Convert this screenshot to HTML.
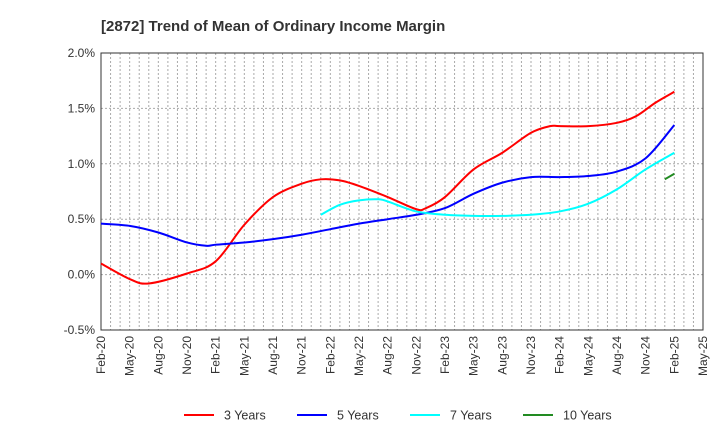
<!DOCTYPE html>
<html><head><meta charset="utf-8"><style>
body{margin:0;background:#fff;font-family:"Liberation Sans",sans-serif;}
svg text{font-family:"Liberation Sans",sans-serif;}
</style></head><body>
<svg id="chart" width="720" height="440">
<text x="101" y="31" font-size="15" font-weight="bold" fill="#333">[2872]  Trend of Mean of Ordinary Income Margin</text>
<g id="grid"></g><g id="axes"></g><g id="series"></g><g id="legend"></g>
</svg>
<script>
const xLabels=["Feb-20","May-20","Aug-20","Nov-20","Feb-21","May-21","Aug-21","Nov-21","Feb-22","May-22","Aug-22","Nov-22","Feb-23","May-23","Aug-23","Nov-23","Feb-24","May-24","Aug-24","Nov-24","Feb-25","May-25"];
const yTicks=[-0.5,0,0.5,1.0,1.5,2.0];
const yTickLabels=["-0.5%","0.0%","0.5%","1.0%","1.5%","2.0%"];
const m3=[0,3,5,9,12,15,18,21,23,25,27,30,33,34,36,39,42,45,47,48,51,54,56,58,60];
const v3=[0.10,-0.04,-0.08,0.01,0.12,0.45,0.70,0.82,0.86,0.85,0.80,0.70,0.59,0.60,0.70,0.95,1.10,1.28,1.34,1.34,1.34,1.37,1.43,1.55,1.65];
const m5=[0,3,6,9,11,12,15,18,21,24,27,30,33,36,39,42,45,48,51,54,57,60];
const v5=[0.46,0.44,0.38,0.29,0.26,0.27,0.29,0.32,0.36,0.41,0.46,0.50,0.54,0.60,0.73,0.83,0.88,0.88,0.89,0.93,1.05,1.35];
const m7=[23,25,27,29,30,33,36,39,42,45,48,51,54,57,60];
const v7=[0.54,0.63,0.67,0.68,0.66,0.57,0.54,0.53,0.53,0.54,0.57,0.64,0.77,0.95,1.10];
const m10=[59,60];
const v10=[0.86,0.91];
const L=101,R=703,T=53,B=330;
const xs=m=>L+(R-L)*m/63;
const ys=v=>B-(B-T)*(v+0.5)/2.5;
const NS="http://www.w3.org/2000/svg";
function mk(t,a,p){const e=document.createElementNS(NS,t);for(const k in a)e.setAttribute(k,a[k]);p.appendChild(e);return e;}
const grid=document.getElementById('grid'),axes=document.getElementById('axes'),ser=document.getElementById('series'),leg=document.getElementById('legend');
for(let m=1;m<63;m++){const l=mk('line',{x1:xs(m),x2:xs(m),y1:T,y2:B,stroke:'#aaa','stroke-dasharray':'2,2','stroke-width':1},grid);

}
yTicks.forEach((v,i)=>{const l=mk('line',{x1:L,x2:R,y1:ys(v),y2:ys(v),stroke:'#aaa','stroke-dasharray':'2,2'},grid);


const t=mk('text',{x:L-6,y:ys(v)+4,'text-anchor':'end','font-size':12,fill:'#333'},axes);t.textContent=yTickLabels[i];

});
xLabels.forEach((s,i)=>{const x=xs(i*3)+4,y=B+6;const t=mk('text',{x:x,y:y,'text-anchor':'end','font-size':12,fill:'#333',transform:`rotate(-90 ${x} ${y})`},axes);t.textContent=s;

});
const fr=mk('rect',{x:L,y:T,width:R-L,height:B-T,fill:'none',stroke:'#333','stroke-width':1},axes);


function path(ms,vs){const p=ms.map((m,i)=>[xs(m),ys(vs[i])]);if(p.length<3)return 'M'+p.map(q=>q.join(',')).join('L');
let d='M'+p[0].join(',');for(let i=0;i<p.length-1;i++){const p0=p[i-1]||p[i],p1=p[i],p2=p[i+1],p3=p[i+2]||p2;
d+=`C${p1[0]+(p2[0]-p0[0])/6},${p1[1]+(p2[1]-p0[1])/6} ${p2[0]-(p3[0]-p1[0])/6},${p2[1]-(p3[1]-p1[1])/6} ${p2[0]},${p2[1]}`;}return d;}
const series=[[m3,v3,'#ff0000','3 Years','series-3-years'],[m5,v5,'#0000ff','5 Years','series-5-years'],[m7,v7,'#00ffff','7 Years','series-7-years'],[m10,v10,'#228b22','10 Years','series-10-years']];
const lx=[184,297,410,523];
series.forEach((s,i)=>{const p=mk('path',{d:path(s[0],s[1]),fill:'none',stroke:s[2],'stroke-width':2},ser);


const g=mk('g',{},leg);


mk('line',{x1:lx[i],x2:lx[i]+30,y1:415,y2:415,stroke:s[2],'stroke-width':2},g);
const t=mk('text',{x:lx[i]+40,y:419.5,'font-size':12.5,fill:'#333'},g);t.textContent=s[3];});
</script>
</body></html>
